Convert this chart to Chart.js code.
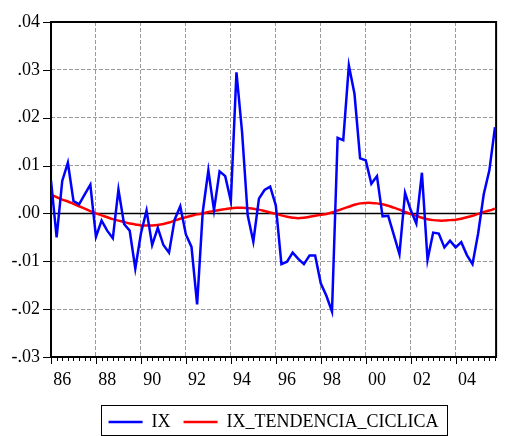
<!DOCTYPE html>
<html lang="es">
<head>
<meta charset="UTF-8">
<title>IX y tendencia ciclica</title>
<script src="https://cdn.jsdelivr.net/npm/chart.js"></script>
<style>
  html, body { margin: 0; padding: 0; background: #fff; }
  #wrap { width: 507px; height: 436px; }
</style>
</head>
<body>
<div id="wrap"><canvas id="chart" width="507" height="436"></canvas></div>
<script>
// quarterly data, 1986Q1 .. 2005Q4
const startYear = 1986;
const ix = [
  0.0069, -0.0050, 0.0068, 0.0106, 0.0026, 0.0019, 0.0040, 0.0060,
  -0.0049, -0.0015, -0.0036, -0.0052, 0.0050, -0.0022, -0.0036, -0.0115,
  -0.0042, 0.0006, -0.0066, -0.0030, -0.0066, -0.0082, -0.0013, 0.0015,
  -0.0044, -0.0070, -0.0190, 0.0003, 0.0090, 0.0007, 0.0088, 0.0078,
  0.0026, 0.0295, 0.0170, -0.0004, -0.0059, 0.0031, 0.0049, 0.0056,
  0.0017, -0.0106, -0.0101, -0.0082, -0.0095, -0.0106, -0.0088, -0.0088,
  -0.0146, -0.0172, -0.0205, 0.0158, 0.0153, 0.0309, 0.0250, 0.0115,
  0.0111, 0.0062, 0.0078, -0.0006, -0.0005, -0.0045, -0.0085, 0.0043,
  0.0007, -0.0021, 0.0085, -0.0097, -0.0040, -0.0042, -0.0071, -0.0057,
  -0.0071, -0.0060, -0.0087, -0.0106, -0.0042, 0.0040, 0.0090, 0.0180
];
const tendencia = [
  0.0039, 0.0034, 0.0029, 0.0025, 0.0020, 0.0015, 0.0010, 0.0005,
  0.0000, -0.0004, -0.0008, -0.0012, -0.0015, -0.0018, -0.0021, -0.0023,
  -0.0025, -0.0025, -0.0025, -0.0024, -0.0022, -0.0019, -0.0015, -0.0011,
  -0.0008, -0.0005, -0.0002, 0.0000, 0.0003, 0.0005, 0.0007, 0.0009,
  0.0011, 0.0012, 0.0012, 0.0011, 0.0010, 0.0008, 0.0005, 0.0002,
  -0.0001, -0.0004, -0.0007, -0.0009, -0.0010, -0.0009, -0.0007, -0.0005,
  -0.0003, -0.0001, 0.0002, 0.0006, 0.0010, 0.0014, 0.0018, 0.0021,
  0.0022, 0.0022, 0.0021, 0.0019, 0.0016, 0.0012, 0.0008, 0.0003,
  -0.0001, -0.0005, -0.0009, -0.0012, -0.0014, -0.0015, -0.0015, -0.0014,
  -0.0013, -0.0011, -0.0008, -0.0005, -0.0001, 0.0003, 0.0006, 0.0010
];
const yearLabels = ["86", "88", "90", "92", "94", "96", "98", "00", "02", "04"];
const yTicks = [-0.03, -0.02, -0.01, 0, 0.01, 0.02, 0.03, 0.04];

const quarters = ix.map((v, i) => (startYear + Math.floor(i / 4)) + "Q" + (i % 4 + 1));
const font = { family: "'Liberation Serif', 'Times New Roman', serif", size: 18 };

// frame, zero line and tick marks, EViews style
const frame = {
  id: "frame",
  beforeDatasetsDraw(chart) {
    const { ctx, chartArea: a, scales } = chart;
    const x = scales.x, y = scales.y;
    ctx.save();
    ctx.strokeStyle = "#000";
    ctx.lineWidth = 1.3;
    const y0 = Math.round(y.getPixelForValue(0)) + 0.5;
    ctx.beginPath();
    ctx.moveTo(a.left, y0);
    ctx.lineTo(a.right, y0);
    ctx.stroke();
    ctx.lineWidth = 1;
    ctx.beginPath();
    quarters.forEach((q, i) => {
      const px = Math.round(x.getPixelForValue(i)) + 0.5;
      ctx.moveTo(px, a.bottom);
      ctx.lineTo(px, a.bottom + (i % 8 === 0 ? 7 : 4));
    });
    yTicks.forEach(v => {
      const py = Math.round(y.getPixelForValue(v)) + 0.5;
      ctx.moveTo(a.left - 8, py);
      ctx.lineTo(a.left, py);
    });
    ctx.stroke();
    ctx.lineWidth = 2;
    ctx.strokeRect(a.left, a.top, a.right - a.left, a.bottom - a.top);
    ctx.restore();
  },
  afterDraw(chart) {
    const hb = chart.legend.legendHitBoxes;
    if (!hb || !hb.length) return;
    const first = hb[0], last = hb[hb.length - 1];
    const ctx = chart.ctx;
    ctx.save();
    ctx.strokeStyle = "#000";
    ctx.lineWidth = 1;
    const l = Math.round(first.left - 8) + 0.5;
    const r = Math.round(last.left + last.width + 8) + 0.5;
    const t = Math.round(first.top - 8) + 0.5;
    const b = Math.round(first.top + first.height + 4) + 0.5;
    ctx.strokeRect(l, t, r - l, b - t);
    ctx.restore();
  }
};

new Chart(document.getElementById("chart"), {
  type: "line",
  data: {
    labels: quarters,
    datasets: [
      {
        label: "IX",
        data: ix.map((v, i) => ({ x: i, y: v })),
        borderColor: "#0000ff",
        borderWidth: 2.5,
        pointRadius: 0,
        tension: 0,
        pointStyle: "line"
      },
      {
        label: "IX_TENDENCIA_CICLICA",
        data: tendencia.map((v, i) => ({ x: i, y: v })),
        borderColor: "#ff0000",
        borderWidth: 2.5,
        pointRadius: 0,
        tension: 0.4,
        pointStyle: "line"
      }
    ]
  },
  options: {
    responsive: false,
    animation: false,
    layout: { padding: { top: 22, right: 7, left: 0, bottom: 0 } },
    plugins: {
      tooltip: { enabled: false },
      legend: {
        position: "bottom",
        fullSize: false,
        maxHeight: 36,
        labels: {
          color: "#000",
          font: font,
          usePointStyle: true,
          pointStyle: "line",
          pointStyleWidth: 34,
          padding: 13
        }
      }
    },
    scales: {
      x: {
        type: "linear",
        min: 0,
        max: 79.2,
        afterBuildTicks(scale) {
          scale.ticks = quarters.map((q, i) => ({ value: i }));
        },
        afterFit(scale) { scale.height = 43; },
        border: { display: false, dash: [4, 2] },
        grid: {
          drawTicks: false,
          lineWidth: 1,
          color: c => (c.tick && c.tick.value % 8 === 0 && c.tick.value > 0) ? "#9a9a9a" : "rgba(0,0,0,0)"
        },
        ticks: {
          autoSkip: false,
          maxRotation: 0,
          padding: 12,
          color: "#000",
          font: font,
          callback: v => (v % 8 === 2) ? yearLabels[(v - 2) / 8] : ""
        }
      },
      y: {
        min: -0.03,
        max: 0.04,
        afterBuildTicks(scale) {
          scale.ticks = yTicks.map(v => ({ value: v }));
        },
        afterFit(scale) { scale.width = 51; },
        border: { display: false, dash: [4, 2] },
        grid: {
          drawTicks: false,
          lineWidth: 1,
          color: c => {
            const v = c.tick ? Math.round(c.tick.value * 100) : 0;
            return (v === 0 || v === -3 || v === 4) ? "rgba(0,0,0,0)" : "#9a9a9a";
          }
        },
        ticks: {
          padding: 11,
          color: "#000",
          font: font,
          callback: v => v.toFixed(2).replace("0.", ".")
        }
      }
    }
  },
  plugins: [frame]
});
</script>
</body>
</html>
